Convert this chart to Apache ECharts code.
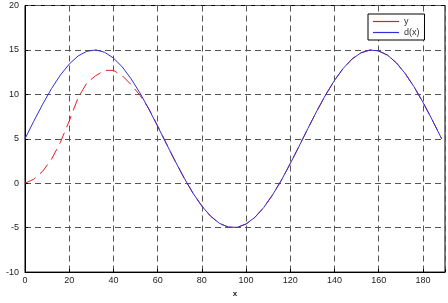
<!DOCTYPE html>
<html>
<head>
<meta charset="utf-8">
<script src="https://cdn.jsdelivr.net/npm/echarts@6/dist/echarts.min.js"></script>
<style>html,body{margin:0;padding:0;background:#fff;}#c{width:448px;height:303px;}</style>
</head>
<body>
<div id="c"></div>
<script>
// x sample positions
var xs = [0,4,8,12,16,20,24,28,32,36,40,44,48,52,56,60,64,68,72,76,80,84,88,92,96,100,104,108,112,116,120,124,128,132,136,140,144,148,152,156,160,164,168,172,176,180,184,188,188.5];
// d(x) (blue, solid)
var dVals = [5,6.99,8.89,10.65,12.17,13.41,14.32,14.85,15.00,14.74,14.09,13.09,11.75,10.16,8.35,6.41,4.42,2.45,0.58,-1.12,-2.57,-3.72,-4.52,-4.94,-4.96,-4.59,-3.84,-2.73,-1.31,0.35,2.21,4.17,6.17,8.12,9.94,11.57,12.94,13.99,14.68,14.99,14.89,14.41,13.55,12.34,10.85,9.12,7.23,5.25,5.00];
// y (red, dashed)
var yVals = [0,0.45,1.35,2.7,4.6,7.0,9.6,11.3,12.1,12.7,12.7,12.1,11.1,9.9,8.4,6.45,4.44,2.45,0.58,-1.12,-2.57,-3.72,-4.52,-4.94,-4.96,-4.59,-3.84,-2.73,-1.31,0.35,2.21,4.17,6.17,8.12,9.94,11.57,12.94,13.99,14.68,14.99,14.89,14.41,13.55,12.34,10.85,9.12,7.23,5.25,5.00];
var seriesNames = ['y', 'd(x)'];
var xTicks = [0,20,40,60,80,100,120,140,160,180];
var yTicks = [-10,-5,0,5,10,15,20];

function pairs(v){ return xs.map(function(x,i){ return [x, v[i]]; }); }

var chart = echarts.init(document.getElementById('c'), null, {renderer:'canvas'});
var font = 'Liberation Sans, Arial, sans-serif';
chart.setOption({
  animation: false,
  backgroundColor: '#fff',
  grid: {left: 25, right: 2, top: 5.5, bottom: 28, show: true, borderColor: '#000', borderWidth: 1, backgroundColor: 'transparent'},
  legend: {
    show: true,
    left: 368, top: 14, orient: 'vertical',
    padding: [3, 5, 3, 5], itemGap: 2, itemWidth: 26, itemHeight: 1.2,
    icon: 'rect',
    backgroundColor: '#fff', borderColor: '#000', borderWidth: 1,
    textStyle: {fontSize: 9, color: '#333', fontFamily: font},
    data: [
      {name: seriesNames[0], itemStyle: {color: '#e02020', borderWidth: 0}},
      {name: seriesNames[1], itemStyle: {color: '#3030d0', borderWidth: 0}}
    ]
  },
  xAxis: {
    type: 'value', min: 0, max: 190, interval: 20,
    name: 'x', nameLocation: 'middle', nameGap: 17,
    nameTextStyle: {fontSize: 8, fontWeight: 'bold', color: '#222', fontFamily: font},
    axisLine: {show: true, onZero: false, lineStyle: {color: '#000', width: 1}},
    axisTick: {show: true, inside: true, length: 3, lineStyle: {color: '#000'}},
    axisLabel: {fontSize: 9, color: '#222', margin: 4, fontFamily: font,
      formatter: function(v){ return xTicks.indexOf(v) >= 0 ? String(v) : ''; }},
    splitLine: {show: true, lineStyle: {color: '#555', type: [6,4], width: 1}}
  },
  yAxis: {
    type: 'value', min: -10, max: 20, interval: 5,
    axisLine: {show: true, onZero: false, lineStyle: {color: '#000', width: 1}},
    axisTick: {show: true, inside: true, length: 3, lineStyle: {color: '#000'}},
    axisLabel: {fontSize: 9, color: '#222', margin: 6, fontFamily: font,
      formatter: function(v){ return yTicks.indexOf(v) >= 0 ? String(v) : ''; }},
    splitLine: {show: true, lineStyle: {color: '#555', type: [6,4], width: 1}}
  },
  series: [
    {name: seriesNames[0], type: 'line', data: pairs(yVals), showSymbol: false, symbol: 'none', smooth: false,
     lineStyle: {color: '#e02020', width: 1, type: [12,6]}, itemStyle: {color: '#e02020'}, z: 2},
    {name: seriesNames[1], type: 'line', data: pairs(dVals), showSymbol: false, symbol: 'none', smooth: false,
     lineStyle: {color: '#3030d0', width: 1, type: 'solid'}, itemStyle: {color: '#3030d0'}, z: 3}
  ]
});
</script>
</body>
</html>
